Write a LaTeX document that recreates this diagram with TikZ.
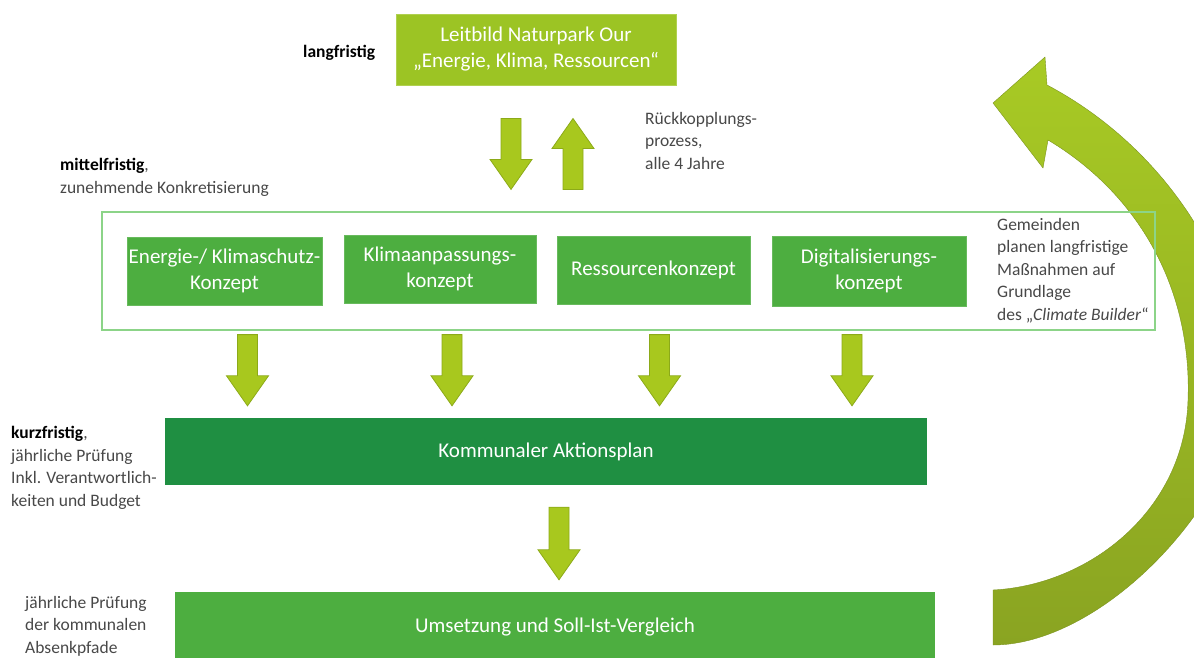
\documentclass[tikz,border=0pt]{standalone}
\usepackage{fontspec}
\setmainfont{Carlito}
\usetikzlibrary{calc}
\definecolor{topgreen}{RGB}{156,196,36}
\definecolor{midgreen}{RGB}{77,174,64}
\definecolor{darkgreen}{RGB}{31,143,66}
\definecolor{framegreen}{RGB}{140,212,136}
\definecolor{arrfill}{RGB}{168,200,30}
\definecolor{arrline}{RGB}{140,170,24}
\definecolor{curvelight}{RGB}{168,202,36}
\definecolor{curvedark}{RGB}{138,164,34}
\definecolor{sidetext}{RGB}{72,72,72}
\newcommand\blockdown[2]{%
  \filldraw[barrow] let \p1=(#1), \p2=(#2) in
    (\x1-10pt,\y1) -- (\x1+10pt,\y1) -- (\x1+10pt,\y2+30pt) -- (\x1+21pt,\y2+30pt)
    -- (\x1,\y2) -- (\x1-21pt,\y2+30pt) -- (\x1-10pt,\y2+30pt) -- cycle;}
\newcommand\blockup[2]{%
  \filldraw[barrow] let \p1=(#1), \p2=(#2) in
    (\x1-10pt,\y1) -- (\x1+10pt,\y1) -- (\x1+10pt,\y2-30pt) -- (\x1+21pt,\y2-30pt)
    -- (\x1,\y2) -- (\x1-21pt,\y2-30pt) -- (\x1-10pt,\y2-30pt) -- cycle;}
\begin{document}
\begin{tikzpicture}[x=1pt,y=-1pt,
  boxtext/.style={text=white,font=\fontsize{21}{26}\selectfont,align=center,inner sep=0pt},
  topbox/.style={boxtext,fill=topgreen,draw=topgreen!80!white,line width=1pt},
  conbox/.style={boxtext,fill=midgreen,draw=midgreen!85!white,line width=0.8pt},
  aktbox/.style={boxtext,fill=darkgreen},
  umsbox/.style={boxtext,fill=midgreen},
  framebox/.style={draw=framegreen,line width=1.2pt,fill=none,inner sep=0pt},
  side/.style={text=sidetext,font=\fontsize{17.5}{22.5}\selectfont,align=left,anchor=north west,inner sep=0pt},
  barrow/.style={fill=arrfill,draw=arrline,line width=0.8pt,line join=miter}]
\useasboundingbox (0,0) rectangle (1194,657);

% curved feedback arrow
\shade[top color=curvelight,bottom color=curvedark,draw=curvedark!90!black,line width=0.4pt]
  (993,590) .. controls (1090,585) and (1185,510) .. (1188,400)
  .. controls (1192,290) and (1140,195) .. (1048,140)
  -- (1043,168) -- (993,103) -- (1045,57) -- (1047,85)
  .. controls (1170,150) and (1250,280) .. (1245,400)
  .. controls (1230,510) and (1100,645) .. (993,645) -- cycle;

% boxes
\node[topbox,minimum width=280pt,minimum height=71pt] (top) at (536,49.5)
  {Leitbild Naturpark Our\\„Energie, Klima, Ressourcen“};
\node[framebox,minimum width=1053pt,minimum height=118pt] (frame) at (628.5,271) {};
\node[conbox,minimum width=195pt,minimum height=68pt] (b1) at (224.5,271) {Energie-/ Klimaschutz-\\Konzept};
\node[conbox,minimum width=192pt,minimum height=68pt] (b2) at (440,269) {Klimaanpassungs-\\konzept};
\node[conbox,minimum width=193pt,minimum height=68pt] (b3) at (653.5,270) {Ressourcenkonzept};
\node[conbox,minimum width=194pt,minimum height=70pt] (b4) at (869,271) {Digitalisierungs-\\konzept};
\node[aktbox,minimum width=762pt,minimum height=67pt] (akt) at (546,451.5) {Kommunaler Aktionsplan};
\node[umsbox,minimum width=760pt,minimum height=70pt] (ums) at (555,627) {Umsetzung und Soll-Ist-Vergleich};

% side texts
\node[side,text=black] (lang) at (303,45) {\textbf{langfristig}};
\node[side] (rueck) at (645,112) {Rückkopplungs-\\prozess,\\alle 4 Jahre};
\node[side] (mittel) at (60,158) {\textbf{\color{black}mittelfristig},\\zunehmende Konkretisierung};
\node[side] (gem) at (997,218) {Gemeinden\\planen langfristige\\Maßnahmen auf\\Grundlage\\des „\textit{Climate Builder}“};
\node[side] (kurz) at (11,426) {\textbf{\color{black}kurzfristig},\\jährliche Prüfung\\Inkl. Verantwortlich-\\keiten und Budget};
\node[side] (absenk) at (25,596) {jährliche Prüfung\\der kommunalen\\Absenkpfade};

% block arrows
\coordinate (d0s) at ([xshift=-25pt,yshift=-33pt]top.south);
\coordinate (d0e) at ([xshift=-25pt,yshift=22pt]frame.north -| top.south);
\blockdown{d0s}{d0e}
\coordinate (u0s) at ([xshift=37pt,yshift=22pt]frame.north -| top.south);
\coordinate (u0e) at ([xshift=37pt,yshift=-33pt]top.south);
\blockup{u0s}{u0e}
\foreach \b/\dx in {b1/23,b2/12,b3/6,b4/-17}{
  \coordinate (s\b) at ([xshift=\dx pt,yshift=-4pt]frame.south -| \b.south);
  \coordinate (e\b) at ([xshift=\dx pt,yshift=12pt]akt.north -| \b.south);
  \blockdown{s\b}{e\b}
}
\coordinate (s5) at ([xshift=13pt,yshift=-22pt]akt.south);
\coordinate (e5) at ([xshift=13pt,yshift=12pt]ums.north -| akt.south);
\blockdown{s5}{e5}
\end{tikzpicture}
\end{document}
